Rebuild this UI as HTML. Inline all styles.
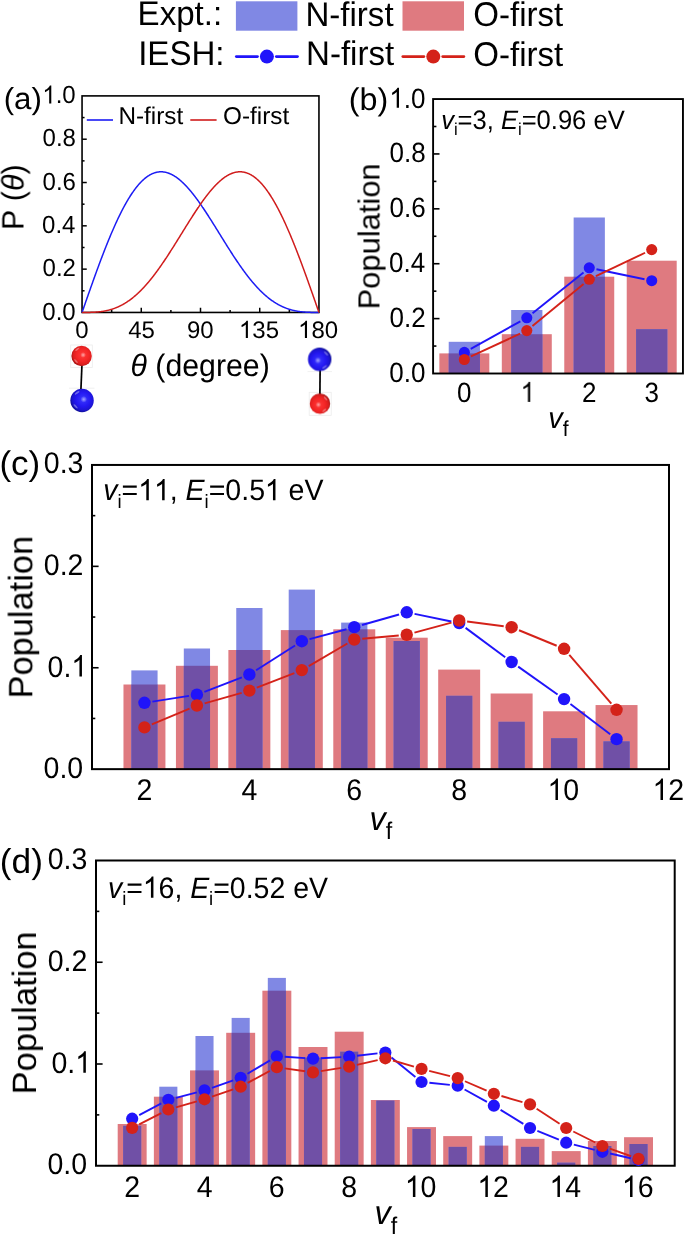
<!DOCTYPE html>
<html><head><meta charset="utf-8"><style>
html,body{margin:0;padding:0;background:#fff;overflow:hidden;}
text{white-space:pre;text-rendering:geometricPrecision;}
g{will-change:transform;}
svg{display:block;font-family:"Liberation Sans",sans-serif;font-kerning:none;}
</style></head><body>
<svg width="685" height="1235" viewBox="0 0 685 1235">
<rect width="685" height="1235" fill="#fff"/>
<g transform="translate(137.60,24.60) scale(1.0000,1.0350)"><text x="0.00" y="0.00" font-size="33.1">Expt.:</text></g>
<rect x="235.90" y="1.30" width="61.50" height="29.40" fill="#8088e4"/>
<g transform="translate(305.40,25.60) scale(1.0000,1.0350)"><text x="0.00" y="0.00" font-size="33.1">N-first</text></g>
<rect x="402.50" y="1.30" width="61.50" height="29.40" fill="#df7a80"/>
<g transform="translate(473.25,25.50) scale(1.0000,1.0350)"><text x="0.00" y="0.00" font-size="33.1">O-first</text></g>
<g transform="translate(138.15,65.00) scale(1.0000,1.0350)"><text x="0.00" y="0.00" font-size="33.1">IESH:</text></g>
<line x1="236.30" y1="56.60" x2="257.50" y2="56.60" stroke="#2014fa" stroke-width="2.7" stroke-linecap="round"/>
<line x1="276.30" y1="56.60" x2="297.50" y2="56.60" stroke="#2014fa" stroke-width="2.7" stroke-linecap="round"/>
<circle cx="266.90" cy="56.60" r="7.00" fill="#2014fa"/>
<line x1="402.80" y1="56.60" x2="423.90" y2="56.60" stroke="#d42219" stroke-width="2.7" stroke-linecap="round"/>
<line x1="442.70" y1="56.60" x2="463.90" y2="56.60" stroke="#d42219" stroke-width="2.7" stroke-linecap="round"/>
<circle cx="433.30" cy="56.60" r="7.00" fill="#d42219"/>
<g transform="translate(306.00,65.30) scale(1.0000,1.0350)"><text x="0.00" y="0.00" font-size="33.1">N-first</text></g>
<g transform="translate(473.25,65.60) scale(1.0000,1.0350)"><text x="0.00" y="0.00" font-size="33.1">O-first</text></g>
<rect x="82.05" y="95.9" width="236.90" height="216.55" fill="none" stroke="#000" stroke-width="1.6"/>
<line x1="82.05" y1="290.79" x2="84.55" y2="290.79" stroke="#000" stroke-width="1.5"/>
<line x1="82.05" y1="269.14" x2="86.75" y2="269.14" stroke="#000" stroke-width="1.5"/>
<line x1="82.05" y1="247.49" x2="84.55" y2="247.49" stroke="#000" stroke-width="1.5"/>
<line x1="82.05" y1="225.83" x2="86.75" y2="225.83" stroke="#000" stroke-width="1.5"/>
<line x1="82.05" y1="204.18" x2="84.55" y2="204.18" stroke="#000" stroke-width="1.5"/>
<line x1="82.05" y1="182.52" x2="86.75" y2="182.52" stroke="#000" stroke-width="1.5"/>
<line x1="82.05" y1="160.87" x2="84.55" y2="160.87" stroke="#000" stroke-width="1.5"/>
<line x1="82.05" y1="139.21" x2="86.75" y2="139.21" stroke="#000" stroke-width="1.5"/>
<line x1="82.05" y1="117.56" x2="84.55" y2="117.56" stroke="#000" stroke-width="1.5"/>
<line x1="111.66" y1="312.45" x2="111.66" y2="309.95" stroke="#000" stroke-width="1.5"/>
<line x1="141.27" y1="312.45" x2="141.27" y2="307.75" stroke="#000" stroke-width="1.5"/>
<line x1="170.89" y1="312.45" x2="170.89" y2="309.95" stroke="#000" stroke-width="1.5"/>
<line x1="200.50" y1="312.45" x2="200.50" y2="307.75" stroke="#000" stroke-width="1.5"/>
<line x1="230.11" y1="312.45" x2="230.11" y2="309.95" stroke="#000" stroke-width="1.5"/>
<line x1="259.72" y1="312.45" x2="259.72" y2="307.75" stroke="#000" stroke-width="1.5"/>
<line x1="289.34" y1="312.45" x2="289.34" y2="309.95" stroke="#000" stroke-width="1.5"/>
<polyline points="82.05,312.45 82.38,311.51 82.71,310.56 83.04,309.62 83.37,308.67 83.70,307.73 84.02,306.78 84.35,305.84 84.68,304.89 85.01,303.95 85.34,303.01 85.67,302.07 86.00,301.12 86.33,300.18 86.66,299.24 86.99,298.30 87.31,297.36 87.64,296.42 87.97,295.49 88.30,294.55 88.63,293.61 88.96,292.68 89.29,291.74 89.62,290.81 89.95,289.88 90.28,288.94 90.60,288.01 90.93,287.09 91.26,286.16 91.59,285.23 91.92,284.31 92.25,283.38 92.58,282.46 92.91,281.54 93.24,280.62 93.57,279.70 93.89,278.78 94.22,277.87 94.55,276.95 94.88,276.04 95.21,275.13 95.54,274.22 95.87,273.32 96.20,272.41 96.53,271.51 96.86,270.61 97.19,269.71 97.51,268.81 97.84,267.92 98.17,267.03 98.50,266.14 98.83,265.25 99.16,264.36 99.49,263.48 99.82,262.60 100.15,261.72 100.48,260.84 100.80,259.97 101.13,259.09 101.46,258.22 101.79,257.36 102.12,256.49 102.45,255.63 102.78,254.77 103.11,253.92 103.44,253.06 103.77,252.21 104.09,251.37 104.42,250.52 104.75,249.68 105.08,248.84 105.41,248.00 105.74,247.17 106.07,246.34 106.40,245.51 106.73,244.69 107.06,243.87 107.39,243.05 107.71,242.24 108.04,241.43 108.37,240.62 108.70,239.81 109.03,239.01 109.36,238.22 109.69,237.42 110.02,236.63 110.35,235.85 110.68,235.06 111.00,234.28 111.33,233.51 111.66,232.73 111.99,231.97 112.32,231.20 112.65,230.44 112.98,229.68 113.31,228.93 113.64,228.18 113.97,227.43 114.29,226.69 114.62,225.95 114.95,225.22 115.28,224.49 115.61,223.76 115.94,223.04 116.27,222.32 116.60,221.61 116.93,220.90 117.26,220.20 117.58,219.50 117.91,218.80 118.24,218.11 118.57,217.42 118.90,216.74 119.23,216.06 119.56,215.38 119.89,214.71 120.22,214.05 120.55,213.38 120.88,212.73 121.20,212.08 121.53,211.43 121.86,210.78 122.19,210.15 122.52,209.51 122.85,208.88 123.18,208.26 123.51,207.64 123.84,207.02 124.17,206.41 124.49,205.81 124.82,205.21 125.15,204.61 125.48,204.02 125.81,203.44 126.14,202.86 126.47,202.28 126.80,201.71 127.13,201.14 127.46,200.58 127.78,200.02 128.11,199.47 128.44,198.93 128.77,198.39 129.10,197.85 129.43,197.32 129.76,196.79 130.09,196.27 130.42,195.76 130.75,195.25 131.08,194.74 131.40,194.24 131.73,193.75 132.06,193.26 132.39,192.78 132.72,192.30 133.05,191.82 133.38,191.36 133.71,190.89 134.04,190.44 134.37,189.98 134.69,189.54 135.02,189.10 135.35,188.66 135.68,188.23 136.01,187.80 136.34,187.38 136.67,186.97 137.00,186.56 137.33,186.16 137.66,185.76 137.98,185.37 138.31,184.98 138.64,184.60 138.97,184.23 139.30,183.86 139.63,183.49 139.96,183.13 140.29,182.78 140.62,182.43 140.95,182.09 141.27,181.75 141.60,181.42 141.93,181.09 142.26,180.77 142.59,180.46 142.92,180.15 143.25,179.85 143.58,179.55 143.91,179.26 144.24,178.97 144.57,178.69 144.89,178.41 145.22,178.15 145.55,177.88 145.88,177.62 146.21,177.37 146.54,177.12 146.87,176.88 147.20,176.65 147.53,176.42 147.86,176.19 148.18,175.97 148.51,175.76 148.84,175.55 149.17,175.35 149.50,175.15 149.83,174.96 150.16,174.78 150.49,174.60 150.82,174.42 151.15,174.26 151.47,174.09 151.80,173.94 152.13,173.79 152.46,173.64 152.79,173.50 153.12,173.37 153.45,173.24 153.78,173.11 154.11,173.00 154.44,172.88 154.77,172.78 155.09,172.68 155.42,172.58 155.75,172.49 156.08,172.41 156.41,172.33 156.74,172.25 157.07,172.19 157.40,172.12 157.73,172.07 158.06,172.02 158.38,171.97 158.71,171.93 159.04,171.89 159.37,171.86 159.70,171.84 160.03,171.82 160.36,171.81 160.69,171.80 161.02,171.80 161.35,171.80 161.67,171.81 162.00,171.82 162.33,171.84 162.66,171.86 162.99,171.89 163.32,171.93 163.65,171.97 163.98,172.01 164.31,172.06 164.64,172.12 164.96,172.18 165.29,172.24 165.62,172.31 165.95,172.39 166.28,172.47 166.61,172.56 166.94,172.65 167.27,172.75 167.60,172.85 167.93,172.95 168.26,173.07 168.58,173.18 168.91,173.30 169.24,173.43 169.57,173.56 169.90,173.70 170.23,173.84 170.56,173.99 170.89,174.14 171.22,174.29 171.55,174.45 171.87,174.62 172.20,174.79 172.53,174.96 172.86,175.14 173.19,175.33 173.52,175.51 173.85,175.71 174.18,175.91 174.51,176.11 174.84,176.32 175.16,176.53 175.49,176.74 175.82,176.96 176.15,177.19 176.48,177.42 176.81,177.65 177.14,177.89 177.47,178.13 177.80,178.38 178.13,178.63 178.46,178.89 178.78,179.15 179.11,179.41 179.44,179.68 179.77,179.95 180.10,180.23 180.43,180.51 180.76,180.80 181.09,181.08 181.42,181.38 181.75,181.67 182.07,181.98 182.40,182.28 182.73,182.59 183.06,182.90 183.39,183.22 183.72,183.54 184.05,183.86 184.38,184.19 184.71,184.52 185.04,184.86 185.36,185.20 185.69,185.54 186.02,185.88 186.35,186.23 186.68,186.59 187.01,186.94 187.34,187.30 187.67,187.67 188.00,188.03 188.33,188.40 188.65,188.78 188.98,189.16 189.31,189.54 189.64,189.92 189.97,190.31 190.30,190.70 190.63,191.09 190.96,191.49 191.29,191.89 191.62,192.29 191.95,192.69 192.27,193.10 192.60,193.51 192.93,193.93 193.26,194.34 193.59,194.76 193.92,195.19 194.25,195.61 194.58,196.04 194.91,196.47 195.24,196.90 195.56,197.34 195.89,197.78 196.22,198.22 196.55,198.66 196.88,199.11 197.21,199.56 197.54,200.01 197.87,200.46 198.20,200.92 198.53,201.38 198.85,201.84 199.18,202.30 199.51,202.77 199.84,203.23 200.17,203.70 200.50,204.18 200.83,204.65 201.16,205.12 201.49,205.60 201.82,206.08 202.15,206.56 202.47,207.05 202.80,207.53 203.13,208.02 203.46,208.51 203.79,209.00 204.12,209.49 204.45,209.98 204.78,210.48 205.11,210.97 205.44,211.47 205.76,211.97 206.09,212.47 206.42,212.98 206.75,213.48 207.08,213.99 207.41,214.49 207.74,215.00 208.07,215.51 208.40,216.02 208.73,216.54 209.05,217.05 209.38,217.56 209.71,218.08 210.04,218.60 210.37,219.11 210.70,219.63 211.03,220.15 211.36,220.67 211.69,221.19 212.02,221.71 212.34,222.24 212.67,222.76 213.00,223.29 213.33,223.81 213.66,224.34 213.99,224.86 214.32,225.39 214.65,225.92 214.98,226.44 215.31,226.97 215.64,227.50 215.96,228.03 216.29,228.56 216.62,229.09 216.95,229.62 217.28,230.15 217.61,230.68 217.94,231.21 218.27,231.74 218.60,232.28 218.93,232.81 219.25,233.34 219.58,233.87 219.91,234.40 220.24,234.93 220.57,235.46 220.90,236.00 221.23,236.53 221.56,237.06 221.89,237.59 222.22,238.12 222.54,238.65 222.87,239.18 223.20,239.71 223.53,240.24 223.86,240.77 224.19,241.30 224.52,241.82 224.85,242.35 225.18,242.88 225.51,243.40 225.84,243.93 226.16,244.46 226.49,244.98 226.82,245.50 227.15,246.03 227.48,246.55 227.81,247.07 228.14,247.59 228.47,248.11 228.80,248.63 229.13,249.15 229.45,249.67 229.78,250.18 230.11,250.70 230.44,251.21 230.77,251.73 231.10,252.24 231.43,252.75 231.76,253.26 232.09,253.77 232.42,254.28 232.74,254.78 233.07,255.29 233.40,255.79 233.73,256.29 234.06,256.80 234.39,257.30 234.72,257.79 235.05,258.29 235.38,258.79 235.71,259.28 236.03,259.77 236.36,260.27 236.69,260.76 237.02,261.24 237.35,261.73 237.68,262.22 238.01,262.70 238.34,263.18 238.67,263.66 239.00,264.14 239.33,264.62 239.65,265.09 239.98,265.57 240.31,266.04 240.64,266.51 240.97,266.97 241.30,267.44 241.63,267.90 241.96,268.37 242.29,268.83 242.62,269.29 242.94,269.74 243.27,270.20 243.60,270.65 243.93,271.10 244.26,271.55 244.59,271.99 244.92,272.44 245.25,272.88 245.58,273.32 245.91,273.76 246.23,274.20 246.56,274.63 246.89,275.06 247.22,275.49 247.55,275.92 247.88,276.34 248.21,276.76 248.54,277.18 248.87,277.60 249.20,278.02 249.53,278.43 249.85,278.84 250.18,279.25 250.51,279.66 250.84,280.06 251.17,280.46 251.50,280.86 251.83,281.26 252.16,281.65 252.49,282.05 252.82,282.43 253.14,282.82 253.47,283.21 253.80,283.59 254.13,283.97 254.46,284.34 254.79,284.72 255.12,285.09 255.45,285.46 255.78,285.83 256.11,286.19 256.43,286.55 256.76,286.91 257.09,287.27 257.42,287.62 257.75,287.97 258.08,288.32 258.41,288.67 258.74,289.01 259.07,289.35 259.40,289.69 259.72,290.03 260.05,290.36 260.38,290.69 260.71,291.02 261.04,291.34 261.37,291.66 261.70,291.98 262.03,292.30 262.36,292.61 262.69,292.92 263.02,293.23 263.34,293.54 263.67,293.84 264.00,294.14 264.33,294.44 264.66,294.73 264.99,295.03 265.32,295.32 265.65,295.60 265.98,295.89 266.31,296.17 266.63,296.45 266.96,296.72 267.29,296.99 267.62,297.26 267.95,297.53 268.28,297.80 268.61,298.06 268.94,298.32 269.27,298.58 269.60,298.83 269.92,299.08 270.25,299.33 270.58,299.57 270.91,299.82 271.24,300.06 271.57,300.30 271.90,300.53 272.23,300.76 272.56,300.99 272.89,301.22 273.22,301.44 273.54,301.66 273.87,301.88 274.20,302.10 274.53,302.31 274.86,302.52 275.19,302.73 275.52,302.94 275.85,303.14 276.18,303.34 276.51,303.54 276.83,303.73 277.16,303.92 277.49,304.11 277.82,304.30 278.15,304.48 278.48,304.67 278.81,304.85 279.14,305.02 279.47,305.20 279.80,305.37 280.12,305.54 280.45,305.70 280.78,305.87 281.11,306.03 281.44,306.19 281.77,306.35 282.10,306.50 282.43,306.65 282.76,306.80 283.09,306.95 283.41,307.09 283.74,307.23 284.07,307.37 284.40,307.51 284.73,307.65 285.06,307.78 285.39,307.91 285.72,308.04 286.05,308.16 286.38,308.29 286.71,308.41 287.03,308.53 287.36,308.64 287.69,308.76 288.02,308.87 288.35,308.98 288.68,309.09 289.01,309.19 289.34,309.30 289.67,309.40 290.00,309.50 290.32,309.59 290.65,309.69 290.98,309.78 291.31,309.87 291.64,309.96 291.97,310.05 292.30,310.13 292.63,310.22 292.96,310.30 293.29,310.38 293.61,310.45 293.94,310.53 294.27,310.60 294.60,310.67 294.93,310.74 295.26,310.81 295.59,310.88 295.92,310.94 296.25,311.01 296.58,311.07 296.91,311.13 297.23,311.18 297.56,311.24 297.89,311.29 298.22,311.35 298.55,311.40 298.88,311.45 299.21,311.50 299.54,311.54 299.87,311.59 300.20,311.63 300.52,311.67 300.85,311.71 301.18,311.75 301.51,311.79 301.84,311.83 302.17,311.86 302.50,311.89 302.83,311.93 303.16,311.96 303.49,311.99 303.81,312.02 304.14,312.04 304.47,312.07 304.80,312.10 305.13,312.12 305.46,312.14 305.79,312.16 306.12,312.19 306.45,312.20 306.78,312.22 307.10,312.24 307.43,312.26 307.76,312.27 308.09,312.29 308.42,312.30 308.75,312.32 309.08,312.33 309.41,312.34 309.74,312.35 310.07,312.36 310.40,312.37 310.72,312.38 311.05,312.39 311.38,312.40 311.71,312.40 312.04,312.41 312.37,312.41 312.70,312.42 313.03,312.42 313.36,312.43 313.69,312.43 314.01,312.43 314.34,312.44 314.67,312.44 315.00,312.44 315.33,312.44 315.66,312.45 315.99,312.45 316.32,312.45 316.65,312.45 316.98,312.45 317.30,312.45 317.63,312.45 317.96,312.45 318.29,312.45 318.62,312.45 318.95,312.45" fill="none" stroke="#1c1cf4" stroke-width="1.5"/>
<polyline points="82.05,312.45 82.38,312.45 82.71,312.45 83.04,312.45 83.37,312.45 83.70,312.45 84.02,312.45 84.35,312.45 84.68,312.45 85.01,312.45 85.34,312.45 85.67,312.44 86.00,312.44 86.33,312.44 86.66,312.44 86.99,312.43 87.31,312.43 87.64,312.43 87.97,312.42 88.30,312.42 88.63,312.41 88.96,312.41 89.29,312.40 89.62,312.40 89.95,312.39 90.28,312.38 90.60,312.37 90.93,312.36 91.26,312.35 91.59,312.34 91.92,312.33 92.25,312.32 92.58,312.30 92.91,312.29 93.24,312.27 93.57,312.26 93.89,312.24 94.22,312.22 94.55,312.20 94.88,312.19 95.21,312.16 95.54,312.14 95.87,312.12 96.20,312.10 96.53,312.07 96.86,312.04 97.19,312.02 97.51,311.99 97.84,311.96 98.17,311.93 98.50,311.89 98.83,311.86 99.16,311.83 99.49,311.79 99.82,311.75 100.15,311.71 100.48,311.67 100.80,311.63 101.13,311.59 101.46,311.54 101.79,311.50 102.12,311.45 102.45,311.40 102.78,311.35 103.11,311.29 103.44,311.24 103.77,311.18 104.09,311.13 104.42,311.07 104.75,311.01 105.08,310.94 105.41,310.88 105.74,310.81 106.07,310.74 106.40,310.67 106.73,310.60 107.06,310.53 107.39,310.45 107.71,310.38 108.04,310.30 108.37,310.22 108.70,310.13 109.03,310.05 109.36,309.96 109.69,309.87 110.02,309.78 110.35,309.69 110.68,309.59 111.00,309.50 111.33,309.40 111.66,309.30 111.99,309.19 112.32,309.09 112.65,308.98 112.98,308.87 113.31,308.76 113.64,308.64 113.97,308.53 114.29,308.41 114.62,308.29 114.95,308.16 115.28,308.04 115.61,307.91 115.94,307.78 116.27,307.65 116.60,307.51 116.93,307.37 117.26,307.23 117.58,307.09 117.91,306.95 118.24,306.80 118.57,306.65 118.90,306.50 119.23,306.35 119.56,306.19 119.89,306.03 120.22,305.87 120.55,305.70 120.88,305.54 121.20,305.37 121.53,305.20 121.86,305.02 122.19,304.85 122.52,304.67 122.85,304.48 123.18,304.30 123.51,304.11 123.84,303.92 124.17,303.73 124.49,303.54 124.82,303.34 125.15,303.14 125.48,302.94 125.81,302.73 126.14,302.52 126.47,302.31 126.80,302.10 127.13,301.88 127.46,301.66 127.78,301.44 128.11,301.22 128.44,300.99 128.77,300.76 129.10,300.53 129.43,300.30 129.76,300.06 130.09,299.82 130.42,299.57 130.75,299.33 131.08,299.08 131.40,298.83 131.73,298.58 132.06,298.32 132.39,298.06 132.72,297.80 133.05,297.53 133.38,297.26 133.71,296.99 134.04,296.72 134.37,296.45 134.69,296.17 135.02,295.89 135.35,295.60 135.68,295.32 136.01,295.03 136.34,294.73 136.67,294.44 137.00,294.14 137.33,293.84 137.66,293.54 137.98,293.23 138.31,292.92 138.64,292.61 138.97,292.30 139.30,291.98 139.63,291.66 139.96,291.34 140.29,291.02 140.62,290.69 140.95,290.36 141.27,290.03 141.60,289.69 141.93,289.35 142.26,289.01 142.59,288.67 142.92,288.32 143.25,287.97 143.58,287.62 143.91,287.27 144.24,286.91 144.57,286.55 144.89,286.19 145.22,285.83 145.55,285.46 145.88,285.09 146.21,284.72 146.54,284.34 146.87,283.97 147.20,283.59 147.53,283.21 147.86,282.82 148.18,282.43 148.51,282.05 148.84,281.65 149.17,281.26 149.50,280.86 149.83,280.46 150.16,280.06 150.49,279.66 150.82,279.25 151.15,278.84 151.47,278.43 151.80,278.02 152.13,277.60 152.46,277.18 152.79,276.76 153.12,276.34 153.45,275.92 153.78,275.49 154.11,275.06 154.44,274.63 154.77,274.20 155.09,273.76 155.42,273.32 155.75,272.88 156.08,272.44 156.41,271.99 156.74,271.55 157.07,271.10 157.40,270.65 157.73,270.20 158.06,269.74 158.38,269.29 158.71,268.83 159.04,268.37 159.37,267.90 159.70,267.44 160.03,266.97 160.36,266.51 160.69,266.04 161.02,265.57 161.35,265.09 161.67,264.62 162.00,264.14 162.33,263.66 162.66,263.18 162.99,262.70 163.32,262.22 163.65,261.73 163.98,261.24 164.31,260.76 164.64,260.27 164.96,259.77 165.29,259.28 165.62,258.79 165.95,258.29 166.28,257.79 166.61,257.30 166.94,256.80 167.27,256.29 167.60,255.79 167.93,255.29 168.26,254.78 168.58,254.28 168.91,253.77 169.24,253.26 169.57,252.75 169.90,252.24 170.23,251.73 170.56,251.21 170.89,250.70 171.22,250.18 171.55,249.67 171.87,249.15 172.20,248.63 172.53,248.11 172.86,247.59 173.19,247.07 173.52,246.55 173.85,246.03 174.18,245.50 174.51,244.98 174.84,244.46 175.16,243.93 175.49,243.40 175.82,242.88 176.15,242.35 176.48,241.82 176.81,241.30 177.14,240.77 177.47,240.24 177.80,239.71 178.13,239.18 178.46,238.65 178.78,238.12 179.11,237.59 179.44,237.06 179.77,236.53 180.10,236.00 180.43,235.46 180.76,234.93 181.09,234.40 181.42,233.87 181.75,233.34 182.07,232.81 182.40,232.28 182.73,231.74 183.06,231.21 183.39,230.68 183.72,230.15 184.05,229.62 184.38,229.09 184.71,228.56 185.04,228.03 185.36,227.50 185.69,226.97 186.02,226.44 186.35,225.92 186.68,225.39 187.01,224.86 187.34,224.34 187.67,223.81 188.00,223.29 188.33,222.76 188.65,222.24 188.98,221.71 189.31,221.19 189.64,220.67 189.97,220.15 190.30,219.63 190.63,219.11 190.96,218.60 191.29,218.08 191.62,217.56 191.95,217.05 192.27,216.54 192.60,216.02 192.93,215.51 193.26,215.00 193.59,214.49 193.92,213.99 194.25,213.48 194.58,212.98 194.91,212.47 195.24,211.97 195.56,211.47 195.89,210.97 196.22,210.48 196.55,209.98 196.88,209.49 197.21,209.00 197.54,208.51 197.87,208.02 198.20,207.53 198.53,207.05 198.85,206.56 199.18,206.08 199.51,205.60 199.84,205.12 200.17,204.65 200.50,204.18 200.83,203.70 201.16,203.23 201.49,202.77 201.82,202.30 202.15,201.84 202.47,201.38 202.80,200.92 203.13,200.46 203.46,200.01 203.79,199.56 204.12,199.11 204.45,198.66 204.78,198.22 205.11,197.78 205.44,197.34 205.76,196.90 206.09,196.47 206.42,196.04 206.75,195.61 207.08,195.19 207.41,194.76 207.74,194.34 208.07,193.93 208.40,193.51 208.73,193.10 209.05,192.69 209.38,192.29 209.71,191.89 210.04,191.49 210.37,191.09 210.70,190.70 211.03,190.31 211.36,189.92 211.69,189.54 212.02,189.16 212.34,188.78 212.67,188.40 213.00,188.03 213.33,187.67 213.66,187.30 213.99,186.94 214.32,186.59 214.65,186.23 214.98,185.88 215.31,185.54 215.64,185.20 215.96,184.86 216.29,184.52 216.62,184.19 216.95,183.86 217.28,183.54 217.61,183.22 217.94,182.90 218.27,182.59 218.60,182.28 218.93,181.98 219.25,181.67 219.58,181.38 219.91,181.08 220.24,180.80 220.57,180.51 220.90,180.23 221.23,179.95 221.56,179.68 221.89,179.41 222.22,179.15 222.54,178.89 222.87,178.63 223.20,178.38 223.53,178.13 223.86,177.89 224.19,177.65 224.52,177.42 224.85,177.19 225.18,176.96 225.51,176.74 225.84,176.53 226.16,176.32 226.49,176.11 226.82,175.91 227.15,175.71 227.48,175.51 227.81,175.33 228.14,175.14 228.47,174.96 228.80,174.79 229.13,174.62 229.45,174.45 229.78,174.29 230.11,174.14 230.44,173.99 230.77,173.84 231.10,173.70 231.43,173.56 231.76,173.43 232.09,173.30 232.42,173.18 232.74,173.07 233.07,172.95 233.40,172.85 233.73,172.75 234.06,172.65 234.39,172.56 234.72,172.47 235.05,172.39 235.38,172.31 235.71,172.24 236.03,172.18 236.36,172.12 236.69,172.06 237.02,172.01 237.35,171.97 237.68,171.93 238.01,171.89 238.34,171.86 238.67,171.84 239.00,171.82 239.33,171.81 239.65,171.80 239.98,171.80 240.31,171.80 240.64,171.81 240.97,171.82 241.30,171.84 241.63,171.86 241.96,171.89 242.29,171.93 242.62,171.97 242.94,172.02 243.27,172.07 243.60,172.12 243.93,172.19 244.26,172.25 244.59,172.33 244.92,172.41 245.25,172.49 245.58,172.58 245.91,172.68 246.23,172.78 246.56,172.88 246.89,173.00 247.22,173.11 247.55,173.24 247.88,173.37 248.21,173.50 248.54,173.64 248.87,173.79 249.20,173.94 249.53,174.09 249.85,174.26 250.18,174.42 250.51,174.60 250.84,174.78 251.17,174.96 251.50,175.15 251.83,175.35 252.16,175.55 252.49,175.76 252.82,175.97 253.14,176.19 253.47,176.42 253.80,176.65 254.13,176.88 254.46,177.12 254.79,177.37 255.12,177.62 255.45,177.88 255.78,178.15 256.11,178.41 256.43,178.69 256.76,178.97 257.09,179.26 257.42,179.55 257.75,179.85 258.08,180.15 258.41,180.46 258.74,180.77 259.07,181.09 259.40,181.42 259.72,181.75 260.05,182.09 260.38,182.43 260.71,182.78 261.04,183.13 261.37,183.49 261.70,183.86 262.03,184.23 262.36,184.60 262.69,184.98 263.02,185.37 263.34,185.76 263.67,186.16 264.00,186.56 264.33,186.97 264.66,187.38 264.99,187.80 265.32,188.23 265.65,188.66 265.98,189.10 266.31,189.54 266.63,189.98 266.96,190.44 267.29,190.89 267.62,191.36 267.95,191.82 268.28,192.30 268.61,192.78 268.94,193.26 269.27,193.75 269.60,194.24 269.92,194.74 270.25,195.25 270.58,195.76 270.91,196.27 271.24,196.79 271.57,197.32 271.90,197.85 272.23,198.39 272.56,198.93 272.89,199.47 273.22,200.02 273.54,200.58 273.87,201.14 274.20,201.71 274.53,202.28 274.86,202.86 275.19,203.44 275.52,204.02 275.85,204.61 276.18,205.21 276.51,205.81 276.83,206.41 277.16,207.02 277.49,207.64 277.82,208.26 278.15,208.88 278.48,209.51 278.81,210.15 279.14,210.78 279.47,211.43 279.80,212.08 280.12,212.73 280.45,213.38 280.78,214.05 281.11,214.71 281.44,215.38 281.77,216.06 282.10,216.74 282.43,217.42 282.76,218.11 283.09,218.80 283.41,219.50 283.74,220.20 284.07,220.90 284.40,221.61 284.73,222.32 285.06,223.04 285.39,223.76 285.72,224.49 286.05,225.22 286.38,225.95 286.71,226.69 287.03,227.43 287.36,228.18 287.69,228.93 288.02,229.68 288.35,230.44 288.68,231.20 289.01,231.97 289.34,232.73 289.67,233.51 290.00,234.28 290.32,235.06 290.65,235.85 290.98,236.63 291.31,237.42 291.64,238.22 291.97,239.01 292.30,239.81 292.63,240.62 292.96,241.43 293.29,242.24 293.61,243.05 293.94,243.87 294.27,244.69 294.60,245.51 294.93,246.34 295.26,247.17 295.59,248.00 295.92,248.84 296.25,249.68 296.58,250.52 296.91,251.37 297.23,252.21 297.56,253.06 297.89,253.92 298.22,254.77 298.55,255.63 298.88,256.49 299.21,257.36 299.54,258.22 299.87,259.09 300.20,259.97 300.52,260.84 300.85,261.72 301.18,262.60 301.51,263.48 301.84,264.36 302.17,265.25 302.50,266.14 302.83,267.03 303.16,267.92 303.49,268.81 303.81,269.71 304.14,270.61 304.47,271.51 304.80,272.41 305.13,273.32 305.46,274.22 305.79,275.13 306.12,276.04 306.45,276.95 306.78,277.87 307.10,278.78 307.43,279.70 307.76,280.62 308.09,281.54 308.42,282.46 308.75,283.38 309.08,284.31 309.41,285.23 309.74,286.16 310.07,287.09 310.40,288.01 310.72,288.94 311.05,289.88 311.38,290.81 311.71,291.74 312.04,292.68 312.37,293.61 312.70,294.55 313.03,295.49 313.36,296.42 313.69,297.36 314.01,298.30 314.34,299.24 314.67,300.18 315.00,301.12 315.33,302.07 315.66,303.01 315.99,303.95 316.32,304.89 316.65,305.84 316.98,306.78 317.30,307.73 317.63,308.67 317.96,309.62 318.29,310.56 318.62,311.51 318.95,312.45" fill="none" stroke="#d01c1c" stroke-width="1.5"/>
<g transform="translate(42.35,319.71) scale(1.0000,1.0350)"><text x="0.00" y="0.00" font-size="24.0">0.0</text></g>
<g transform="translate(42.60,276.40) scale(1.0000,1.0350)"><text x="0.00" y="0.00" font-size="24.0">0.2</text></g>
<g transform="translate(42.10,233.09) scale(1.0000,1.0350)"><text x="0.00" y="0.00" font-size="24.0">0.4</text></g>
<g transform="translate(42.60,189.78) scale(1.0000,1.0350)"><text x="0.00" y="0.00" font-size="24.0">0.6</text></g>
<g transform="translate(42.60,146.47) scale(1.0000,1.0350)"><text x="0.00" y="0.00" font-size="24.0">0.8</text></g>
<g transform="translate(42.35,103.42) scale(1.0000,1.0350)"><path transform="translate(0.00,0.00) scale(0.01172,-0.01172)" d="M763 0 L583 0 L583 1147 Q518 1085 412 1023 Q306 961 222 930 L222 1104 Q373 1175 486 1276 Q599 1377 646 1472 L763 1472 Z"/><text x="13.35" y="0.00" font-size="24.0">.0</text></g>
<g transform="translate(75.30,337.95) scale(1.0000,0.9950)"><text x="0.00" y="0.00" font-size="24.0">0</text></g>
<g transform="translate(128.27,337.95) scale(1.0000,0.9950)"><text x="0.00" y="0.00" font-size="24.0">45</text></g>
<g transform="translate(187.00,337.95) scale(1.0000,0.9950)"><text x="0.00" y="0.00" font-size="24.0">90</text></g>
<g transform="translate(238.97,337.95) scale(1.0000,0.9950)"><path transform="translate(0.00,0.00) scale(0.01172,-0.01172)" d="M763 0 L583 0 L583 1147 Q518 1085 412 1023 Q306 961 222 930 L222 1104 Q373 1175 486 1276 Q599 1377 646 1472 L763 1472 Z"/><text x="13.35" y="0.00" font-size="24.0">35</text></g>
<g transform="translate(298.07,337.95) scale(1.0000,0.9950)"><path transform="translate(0.00,0.00) scale(0.01172,-0.01172)" d="M763 0 L583 0 L583 1147 Q518 1085 412 1023 Q306 961 222 930 L222 1104 Q373 1175 486 1276 Q599 1377 646 1472 L763 1472 Z"/><text x="13.35" y="0.00" font-size="24.0">80</text></g>
<g transform="translate(3.65,108.80) scale(1.0000,0.9750)"><text x="0.00" y="0.00" font-size="31.3">(a)</text></g>
<line x1="86.80" y1="120.00" x2="113.00" y2="120.00" stroke="#1c1cf4" stroke-width="1.6"/>
<g transform="translate(118.45,124.20) scale(1.0000,1.0000)"><text x="0.00" y="0.00" font-size="24.3">N-first</text></g>
<line x1="190.30" y1="120.00" x2="216.60" y2="120.00" stroke="#d01c1c" stroke-width="1.6"/>
<g transform="translate(223.10,124.20) scale(1.0000,1.0000)"><text x="0.00" y="0.00" font-size="24.3">O-first</text></g>
<g transform="translate(23.40,229.99) rotate(-90) scale(1.0174,1.0350)"><text x="0.00" y="0.00" font-size="29.9">P (</text><text x="38.34" y="0.00" font-size="29.9" font-style="italic">θ</text><text x="54.61" y="0.00" font-size="29.9">)</text></g>
<g transform="translate(130.54,375.70) scale(1.0085,1.0350)"><text x="0.00" y="0.00" font-size="30" font-style="italic">θ</text><text x="16.27" y="0.00" font-size="30"> (degree)</text></g>
<rect x="70.7" y="345" width="21.6" height="22.5" fill="none" stroke="#ececec" stroke-width="0.8"/>
<line x1="69" y1="388.2" x2="94.5" y2="388.2" stroke="#ececec" stroke-width="0.8"/>
<line x1="307.5" y1="371.6" x2="332" y2="371.6" stroke="#ececec" stroke-width="0.8"/>
<rect x="309.2" y="392.3" width="22" height="23" fill="none" stroke="#ececec" stroke-width="0.8"/>
<line x1="81.90" y1="366.00" x2="80.90" y2="390.00" stroke="#000" stroke-width="1.7"/>
<defs><radialGradient id="bg1" cx="0.55" cy="0.45" r="0.55"><stop offset="0" stop-color="#ff3a3a"/><stop offset="0.55" stop-color="#f42626"/><stop offset="0.85" stop-color="#dc1e1e"/><stop offset="1" stop-color="#a81414"/></radialGradient><radialGradient id="bh1"><stop offset="0" stop-color="#fff" stop-opacity="0.55"/><stop offset="1" stop-color="#fff" stop-opacity="0"/></radialGradient></defs>
<g>
<circle cx="81.60" cy="356.00" r="10.20" fill="url(#bg1)"/>
<circle cx="83.13" cy="354.98" r="2.86" fill="url(#bh1)"/>
<ellipse cx="77.32" cy="349.27" rx="2.45" ry="0.82" transform="rotate(-35 77.32 349.27)" fill="#fff" opacity="0.35"/>
<ellipse cx="75.99" cy="361.10" rx="2.45" ry="0.82" transform="rotate(45 75.99 361.10)" fill="#fff" opacity="0.35"/>
</g>
<defs><radialGradient id="bg2" cx="0.55" cy="0.45" r="0.55"><stop offset="0" stop-color="#3a3aff"/><stop offset="0.55" stop-color="#2418f2"/><stop offset="0.85" stop-color="#1c14d0"/><stop offset="1" stop-color="#10109a"/></radialGradient><radialGradient id="bh2"><stop offset="0" stop-color="#fff" stop-opacity="0.55"/><stop offset="1" stop-color="#fff" stop-opacity="0"/></radialGradient></defs>
<g>
<circle cx="82.05" cy="400.50" r="11.70" fill="url(#bg2)"/>
<circle cx="83.80" cy="399.33" r="3.28" fill="url(#bh2)"/>
<ellipse cx="77.14" cy="392.78" rx="2.81" ry="0.94" transform="rotate(-35 77.14 392.78)" fill="#fff" opacity="0.35"/>
<ellipse cx="75.61" cy="406.35" rx="2.81" ry="0.94" transform="rotate(45 75.61 406.35)" fill="#fff" opacity="0.35"/>
</g>
<line x1="320.10" y1="370.00" x2="319.90" y2="394.50" stroke="#000" stroke-width="1.7"/>
<defs><radialGradient id="bg3" cx="0.55" cy="0.45" r="0.55"><stop offset="0" stop-color="#3a3aff"/><stop offset="0.55" stop-color="#2418f2"/><stop offset="0.85" stop-color="#1c14d0"/><stop offset="1" stop-color="#10109a"/></radialGradient><radialGradient id="bh3"><stop offset="0" stop-color="#fff" stop-opacity="0.55"/><stop offset="1" stop-color="#fff" stop-opacity="0"/></radialGradient></defs>
<g transform="rotate(180 319.70 359.30)">
<circle cx="319.70" cy="359.30" r="11.70" fill="url(#bg3)"/>
<circle cx="321.45" cy="358.13" r="3.28" fill="url(#bh3)"/>
<ellipse cx="314.79" cy="351.58" rx="2.81" ry="0.94" transform="rotate(-35 314.79 351.58)" fill="#fff" opacity="0.35"/>
<ellipse cx="313.26" cy="365.15" rx="2.81" ry="0.94" transform="rotate(45 313.26 365.15)" fill="#fff" opacity="0.35"/>
</g>
<defs><radialGradient id="bg4" cx="0.55" cy="0.45" r="0.55"><stop offset="0" stop-color="#ff3a3a"/><stop offset="0.55" stop-color="#f42626"/><stop offset="0.85" stop-color="#dc1e1e"/><stop offset="1" stop-color="#a81414"/></radialGradient><radialGradient id="bh4"><stop offset="0" stop-color="#fff" stop-opacity="0.55"/><stop offset="1" stop-color="#fff" stop-opacity="0"/></radialGradient></defs>
<g transform="rotate(180 320.00 403.70)">
<circle cx="320.00" cy="403.70" r="10.20" fill="url(#bg4)"/>
<circle cx="321.53" cy="402.68" r="2.86" fill="url(#bh4)"/>
<ellipse cx="315.72" cy="396.97" rx="2.45" ry="0.82" transform="rotate(-35 315.72 396.97)" fill="#fff" opacity="0.35"/>
<ellipse cx="314.39" cy="408.80" rx="2.45" ry="0.82" transform="rotate(45 314.39 408.80)" fill="#fff" opacity="0.35"/>
</g>
<rect x="439.35" y="353.40" width="49.97" height="20.10" fill="#df7a80"/>
<rect x="448.72" y="341.80" width="31.23" height="31.70" fill="#8088e4"/>
<rect x="448.72" y="353.40" width="31.23" height="20.10" fill="#7050a6"/>
<rect x="501.81" y="334.20" width="49.97" height="39.30" fill="#df7a80"/>
<rect x="511.18" y="310.00" width="31.23" height="63.50" fill="#8088e4"/>
<rect x="511.18" y="334.20" width="31.23" height="39.30" fill="#7050a6"/>
<rect x="564.27" y="276.70" width="49.97" height="96.80" fill="#df7a80"/>
<rect x="573.64" y="217.50" width="31.23" height="156.00" fill="#8088e4"/>
<rect x="573.64" y="276.70" width="31.23" height="96.80" fill="#7050a6"/>
<rect x="626.73" y="260.70" width="49.97" height="112.80" fill="#df7a80"/>
<rect x="636.10" y="329.20" width="31.23" height="44.30" fill="#8088e4"/>
<rect x="636.10" y="329.20" width="31.23" height="44.30" fill="#7050a6"/>
<line x1="433.10" y1="346.06" x2="436.40" y2="346.06" stroke="#000" stroke-width="1.6"/>
<line x1="433.10" y1="318.61" x2="439.50" y2="318.61" stroke="#000" stroke-width="1.6"/>
<line x1="433.10" y1="291.17" x2="436.40" y2="291.17" stroke="#000" stroke-width="1.6"/>
<line x1="433.10" y1="263.72" x2="439.50" y2="263.72" stroke="#000" stroke-width="1.6"/>
<line x1="433.10" y1="236.28" x2="436.40" y2="236.28" stroke="#000" stroke-width="1.6"/>
<line x1="433.10" y1="208.83" x2="439.50" y2="208.83" stroke="#000" stroke-width="1.6"/>
<line x1="433.10" y1="181.39" x2="436.40" y2="181.39" stroke="#000" stroke-width="1.6"/>
<line x1="433.10" y1="153.94" x2="439.50" y2="153.94" stroke="#000" stroke-width="1.6"/>
<line x1="433.10" y1="126.50" x2="436.40" y2="126.50" stroke="#000" stroke-width="1.6"/>
<rect x="433.1" y="99.05" width="249.85" height="274.45" fill="none" stroke="#000" stroke-width="1.9"/>
<line x1="470.76" y1="348.84" x2="520.36" y2="321.36" stroke="#2014fa" stroke-width="1.9"/>
<line x1="532.53" y1="313.21" x2="583.52" y2="272.39" stroke="#2014fa" stroke-width="1.9"/>
<line x1="596.45" y1="269.29" x2="644.52" y2="279.21" stroke="#2014fa" stroke-width="1.9"/>
<circle cx="464.33" cy="352.40" r="5.55" fill="#2014fa"/>
<circle cx="526.79" cy="317.80" r="5.55" fill="#2014fa"/>
<circle cx="589.26" cy="267.80" r="5.55" fill="#2014fa"/>
<circle cx="651.72" cy="280.70" r="5.55" fill="#2014fa"/>
<line x1="471.00" y1="356.41" x2="520.12" y2="333.69" stroke="#d42219" stroke-width="1.9"/>
<line x1="532.47" y1="325.94" x2="583.58" y2="283.96" stroke="#d42219" stroke-width="1.9"/>
<line x1="595.89" y1="276.14" x2="645.08" y2="252.76" stroke="#d42219" stroke-width="1.9"/>
<circle cx="464.33" cy="359.50" r="5.55" fill="#d42219"/>
<circle cx="526.79" cy="330.60" r="5.55" fill="#d42219"/>
<circle cx="589.26" cy="279.30" r="5.55" fill="#d42219"/>
<circle cx="651.72" cy="249.60" r="5.55" fill="#d42219"/>
<g transform="translate(389.30,381.83) scale(1.0000,1.0700)"><text x="0.00" y="0.00" font-size="26.0">0.0</text></g>
<g transform="translate(389.55,326.94) scale(1.0000,1.0700)"><text x="0.00" y="0.00" font-size="26.0">0.2</text></g>
<g transform="translate(389.05,272.05) scale(1.0000,1.0700)"><text x="0.00" y="0.00" font-size="26.0">0.4</text></g>
<g transform="translate(389.55,217.16) scale(1.0000,1.0700)"><text x="0.00" y="0.00" font-size="26.0">0.6</text></g>
<g transform="translate(389.55,162.27) scale(1.0000,1.0700)"><text x="0.00" y="0.00" font-size="26.0">0.8</text></g>
<g transform="translate(389.30,107.65) scale(1.0000,1.0700)"><path transform="translate(0.00,0.00) scale(0.01270,-0.01270)" d="M763 0 L583 0 L583 1147 Q518 1085 412 1023 Q306 961 222 930 L222 1104 Q373 1175 486 1276 Q599 1377 646 1472 L763 1472 Z"/><text x="14.46" y="0.00" font-size="26.0">.0</text></g>
<g transform="translate(457.08,401.63) scale(1.0000,1.0700)"><text x="0.00" y="0.00" font-size="26.0">0</text></g>
<g transform="translate(520.54,401.90) scale(1.0000,1.0700)"><path transform="translate(0.00,0.00) scale(0.01270,-0.01270)" d="M763 0 L583 0 L583 1147 Q518 1085 412 1023 Q306 961 222 930 L222 1104 Q373 1175 486 1276 Q599 1377 646 1472 L763 1472 Z"/></g>
<g transform="translate(582.01,401.76) scale(1.0000,1.0700)"><text x="0.00" y="0.00" font-size="26.0">2</text></g>
<g transform="translate(644.59,401.63) scale(1.0000,1.0700)"><text x="0.00" y="0.00" font-size="26.0">3</text></g>
<g transform="translate(348.85,110.10) scale(1.0000,0.9750)"><text x="0.00" y="0.00" font-size="32.3">(b)</text></g>
<g transform="translate(379.05,309.40) rotate(-90) scale(1.0000,0.9850)"><text x="0.00" y="0.00" font-size="30.9">Population</text></g>
<g transform="translate(548.25,427.80) scale(1.0000,1.0350)"><text x="0.00" y="0.00" font-size="29" font-style="italic">v</text><text x="14.50" y="8.20" font-size="21">f</text></g>
<g transform="translate(441.16,128.60) scale(0.9915,1.0350)"><text x="0.00" y="0.00" font-size="25.8" font-style="italic">v</text><text x="12.88" y="6.45" font-size="16.77">i</text><text x="16.60" y="0.00" font-size="25.8">=3, </text><text x="60.26" y="0.00" font-size="25.8" font-style="italic">E</text><text x="77.44" y="6.45" font-size="16.77">i</text><text x="81.16" y="0.00" font-size="25.8">=0.96 eV</text></g>
<rect x="123.47" y="684.50" width="41.96" height="84.65" fill="#df7a80"/>
<rect x="131.34" y="670.40" width="26.23" height="98.75" fill="#8088e4"/>
<rect x="131.34" y="684.50" width="26.23" height="84.65" fill="#7050a6"/>
<rect x="175.93" y="665.80" width="41.96" height="103.35" fill="#df7a80"/>
<rect x="183.80" y="648.50" width="26.23" height="120.65" fill="#8088e4"/>
<rect x="183.80" y="665.80" width="26.23" height="103.35" fill="#7050a6"/>
<rect x="228.38" y="650.00" width="41.96" height="119.15" fill="#df7a80"/>
<rect x="236.25" y="608.00" width="26.23" height="161.15" fill="#8088e4"/>
<rect x="236.25" y="650.00" width="26.23" height="119.15" fill="#7050a6"/>
<rect x="280.84" y="630.10" width="41.96" height="139.05" fill="#df7a80"/>
<rect x="288.70" y="589.60" width="26.23" height="179.55" fill="#8088e4"/>
<rect x="288.70" y="630.10" width="26.23" height="139.05" fill="#7050a6"/>
<rect x="333.29" y="629.30" width="41.96" height="139.85" fill="#df7a80"/>
<rect x="341.16" y="622.60" width="26.23" height="146.55" fill="#8088e4"/>
<rect x="341.16" y="629.30" width="26.23" height="139.85" fill="#7050a6"/>
<rect x="385.75" y="637.70" width="41.96" height="131.45" fill="#df7a80"/>
<rect x="393.61" y="641.00" width="26.23" height="128.15" fill="#8088e4"/>
<rect x="393.61" y="641.00" width="26.23" height="128.15" fill="#7050a6"/>
<rect x="438.20" y="669.60" width="41.96" height="99.55" fill="#df7a80"/>
<rect x="446.07" y="695.80" width="26.23" height="73.35" fill="#8088e4"/>
<rect x="446.07" y="695.80" width="26.23" height="73.35" fill="#7050a6"/>
<rect x="490.65" y="693.50" width="41.96" height="75.65" fill="#df7a80"/>
<rect x="498.52" y="721.80" width="26.23" height="47.35" fill="#8088e4"/>
<rect x="498.52" y="721.80" width="26.23" height="47.35" fill="#7050a6"/>
<rect x="543.11" y="711.30" width="41.96" height="57.85" fill="#df7a80"/>
<rect x="550.98" y="738.20" width="26.23" height="30.95" fill="#8088e4"/>
<rect x="550.98" y="738.20" width="26.23" height="30.95" fill="#7050a6"/>
<rect x="595.56" y="705.05" width="41.96" height="64.10" fill="#df7a80"/>
<rect x="603.43" y="741.35" width="26.23" height="27.80" fill="#8088e4"/>
<rect x="603.43" y="741.35" width="26.23" height="27.80" fill="#7050a6"/>
<line x1="92.00" y1="718.45" x2="95.30" y2="718.45" stroke="#000" stroke-width="1.6"/>
<line x1="92.00" y1="667.75" x2="98.60" y2="667.75" stroke="#000" stroke-width="1.6"/>
<line x1="92.00" y1="617.05" x2="95.30" y2="617.05" stroke="#000" stroke-width="1.6"/>
<line x1="92.00" y1="566.35" x2="98.60" y2="566.35" stroke="#000" stroke-width="1.6"/>
<line x1="92.00" y1="515.65" x2="95.30" y2="515.65" stroke="#000" stroke-width="1.6"/>
<rect x="92.0" y="464.95" width="577.00" height="304.20" fill="none" stroke="#000" stroke-width="2.0"/>
<line x1="152.36" y1="701.58" x2="189.00" y2="695.92" stroke="#2014fa" stroke-width="1.9"/>
<line x1="204.37" y1="691.83" x2="241.90" y2="677.37" stroke="#2014fa" stroke-width="1.9"/>
<line x1="256.12" y1="670.21" x2="295.06" y2="645.49" stroke="#2014fa" stroke-width="1.9"/>
<line x1="309.55" y1="639.14" x2="346.54" y2="629.26" stroke="#2014fa" stroke-width="1.9"/>
<line x1="361.97" y1="625.01" x2="399.03" y2="614.49" stroke="#2014fa" stroke-width="1.9"/>
<line x1="414.56" y1="613.91" x2="451.35" y2="621.49" stroke="#2014fa" stroke-width="1.9"/>
<line x1="465.61" y1="627.87" x2="505.21" y2="657.23" stroke="#2014fa" stroke-width="1.9"/>
<line x1="518.17" y1="666.62" x2="557.56" y2="694.48" stroke="#2014fa" stroke-width="1.9"/>
<line x1="570.45" y1="703.95" x2="610.19" y2="734.30" stroke="#2014fa" stroke-width="1.9"/>
<circle cx="144.45" cy="702.80" r="6.20" fill="#2014fa"/>
<circle cx="196.91" cy="694.70" r="6.20" fill="#2014fa"/>
<circle cx="249.36" cy="674.50" r="6.20" fill="#2014fa"/>
<circle cx="301.82" cy="641.20" r="6.20" fill="#2014fa"/>
<circle cx="354.27" cy="627.20" r="6.20" fill="#2014fa"/>
<circle cx="406.73" cy="612.30" r="6.20" fill="#2014fa"/>
<circle cx="459.18" cy="623.10" r="6.20" fill="#2014fa"/>
<circle cx="511.64" cy="662.00" r="6.20" fill="#2014fa"/>
<circle cx="564.09" cy="699.10" r="6.20" fill="#2014fa"/>
<circle cx="616.55" cy="739.15" r="6.20" fill="#2014fa"/>
<line x1="151.84" y1="724.32" x2="189.53" y2="708.58" stroke="#d42219" stroke-width="1.9"/>
<line x1="204.60" y1="703.31" x2="241.67" y2="692.79" stroke="#d42219" stroke-width="1.9"/>
<line x1="256.81" y1="687.69" x2="294.37" y2="673.01" stroke="#d42219" stroke-width="1.9"/>
<line x1="308.73" y1="666.07" x2="347.36" y2="643.53" stroke="#d42219" stroke-width="1.9"/>
<line x1="362.24" y1="638.78" x2="398.76" y2="635.47" stroke="#d42219" stroke-width="1.9"/>
<line x1="414.45" y1="632.65" x2="451.46" y2="622.60" stroke="#d42219" stroke-width="1.9"/>
<line x1="467.12" y1="621.51" x2="503.70" y2="626.19" stroke="#d42219" stroke-width="1.9"/>
<line x1="519.03" y1="630.25" x2="556.69" y2="645.75" stroke="#d42219" stroke-width="1.9"/>
<line x1="569.31" y1="654.87" x2="611.33" y2="703.73" stroke="#d42219" stroke-width="1.9"/>
<circle cx="144.45" cy="727.40" r="6.20" fill="#d42219"/>
<circle cx="196.91" cy="705.50" r="6.20" fill="#d42219"/>
<circle cx="249.36" cy="690.60" r="6.20" fill="#d42219"/>
<circle cx="301.82" cy="670.10" r="6.20" fill="#d42219"/>
<circle cx="354.27" cy="639.50" r="6.20" fill="#d42219"/>
<circle cx="406.73" cy="634.75" r="6.20" fill="#d42219"/>
<circle cx="459.18" cy="620.50" r="6.20" fill="#d42219"/>
<circle cx="511.64" cy="627.20" r="6.20" fill="#d42219"/>
<circle cx="564.09" cy="648.80" r="6.20" fill="#d42219"/>
<circle cx="616.55" cy="709.80" r="6.20" fill="#d42219"/>
<g transform="translate(43.55,777.59) scale(1.0000,1.0500)"><text x="0.00" y="0.00" font-size="28.5">0.0</text></g>
<g transform="translate(47.55,676.58) scale(1.0000,1.0500)"><text x="0.00" y="0.00" font-size="28.5">0.</text><path transform="translate(23.77,0.00) scale(0.01392,-0.01392)" d="M763 0 L583 0 L583 1147 Q518 1085 412 1023 Q306 961 222 930 L222 1104 Q373 1175 486 1276 Q599 1377 646 1472 L763 1472 Z"/></g>
<g transform="translate(43.80,574.79) scale(1.0000,1.0500)"><text x="0.00" y="0.00" font-size="28.5">0.2</text></g>
<g transform="translate(43.80,473.39) scale(1.0000,1.0500)"><text x="0.00" y="0.00" font-size="28.5">0.3</text></g>
<g transform="translate(136.45,799.77) scale(1.0000,1.0500)"><text x="0.00" y="0.00" font-size="28.5">2</text></g>
<g transform="translate(241.49,799.64) scale(1.0000,1.0500)"><text x="0.00" y="0.00" font-size="28.5">4</text></g>
<g transform="translate(346.27,799.64) scale(1.0000,1.0500)"><text x="0.00" y="0.00" font-size="28.5">6</text></g>
<g transform="translate(451.31,799.64) scale(1.0000,1.0500)"><text x="0.00" y="0.00" font-size="28.5">8</text></g>
<g transform="translate(547.34,800.03) scale(1.0000,1.0500)"><path transform="translate(0.00,0.00) scale(0.01392,-0.01392)" d="M763 0 L583 0 L583 1147 Q518 1085 412 1023 Q306 961 222 930 L222 1104 Q373 1175 486 1276 Q599 1377 646 1472 L763 1472 Z"/><text x="15.85" y="0.00" font-size="28.5">0</text></g>
<g transform="translate(652.38,800.03) scale(1.0000,1.0500)"><path transform="translate(0.00,0.00) scale(0.01392,-0.01392)" d="M763 0 L583 0 L583 1147 Q518 1085 412 1023 Q306 961 222 930 L222 1104 Q373 1175 486 1276 Q599 1377 646 1472 L763 1472 Z"/><text x="15.85" y="0.00" font-size="28.5">2</text></g>
<g transform="translate(-0.60,474.60) scale(1.0000,0.9750)"><text x="0.00" y="0.00" font-size="35.1">(c)</text></g>
<g transform="translate(31.85,698.45) rotate(-90) scale(1.0000,0.9850)"><text x="0.00" y="0.00" font-size="34.4">Population</text></g>
<g transform="translate(369.50,829.60) scale(1.0000,1.0350)"><text x="0.00" y="0.00" font-size="32.5" font-style="italic">v</text><text x="16.25" y="9.10" font-size="23.3">f</text></g>
<g transform="translate(103.25,500.30) scale(0.9979,1.0350)"><text x="0.00" y="0.00" font-size="28.6" font-style="italic">v</text><text x="14.25" y="7.15" font-size="18.59">i</text><text x="18.36" y="0.00" font-size="28.6">=</text><path transform="translate(35.00,0.00) scale(0.01396,-0.01396)" d="M763 0 L583 0 L583 1147 Q518 1085 412 1023 Q306 961 222 930 L222 1104 Q373 1175 486 1276 Q599 1377 646 1472 L763 1472 Z"/><path transform="translate(50.86,0.00) scale(0.01396,-0.01396)" d="M763 0 L583 0 L583 1147 Q518 1085 412 1023 Q306 961 222 930 L222 1104 Q373 1175 486 1276 Q599 1377 646 1472 L763 1472 Z"/><text x="66.71" y="0.00" font-size="28.6">, </text><text x="82.54" y="0.00" font-size="28.6" font-style="italic">E</text><text x="101.55" y="7.15" font-size="18.59">i</text><text x="105.66" y="0.00" font-size="28.6">=0.5</text><path transform="translate(161.93,0.00) scale(0.01396,-0.01396)" d="M763 0 L583 0 L583 1147 Q518 1085 412 1023 Q306 961 222 930 L222 1104 Q373 1175 486 1276 Q599 1377 646 1472 L763 1472 Z"/><text x="177.78" y="0.00" font-size="28.6"> eV</text></g>
<rect x="117.70" y="1124.00" width="28.94" height="41.75" fill="#df7a80"/>
<rect x="123.13" y="1125.80" width="18.08" height="39.95" fill="#8088e4"/>
<rect x="123.13" y="1125.80" width="18.08" height="39.95" fill="#7050a6"/>
<rect x="153.87" y="1096.70" width="28.94" height="69.05" fill="#df7a80"/>
<rect x="159.30" y="1086.70" width="18.08" height="79.05" fill="#8088e4"/>
<rect x="159.30" y="1096.70" width="18.08" height="69.05" fill="#7050a6"/>
<rect x="190.04" y="1070.40" width="28.94" height="95.35" fill="#df7a80"/>
<rect x="195.46" y="1036.00" width="18.08" height="129.75" fill="#8088e4"/>
<rect x="195.46" y="1070.40" width="18.08" height="95.35" fill="#7050a6"/>
<rect x="226.21" y="1032.80" width="28.94" height="132.95" fill="#df7a80"/>
<rect x="231.63" y="1017.90" width="18.08" height="147.85" fill="#8088e4"/>
<rect x="231.63" y="1032.80" width="18.08" height="132.95" fill="#7050a6"/>
<rect x="262.38" y="990.70" width="28.94" height="175.05" fill="#df7a80"/>
<rect x="267.80" y="977.90" width="18.08" height="187.85" fill="#8088e4"/>
<rect x="267.80" y="990.70" width="18.08" height="175.05" fill="#7050a6"/>
<rect x="298.55" y="1047.00" width="28.94" height="118.75" fill="#df7a80"/>
<rect x="303.97" y="1057.50" width="18.08" height="108.25" fill="#8088e4"/>
<rect x="303.97" y="1057.50" width="18.08" height="108.25" fill="#7050a6"/>
<rect x="334.71" y="1031.70" width="28.94" height="134.05" fill="#df7a80"/>
<rect x="340.14" y="1051.70" width="18.08" height="114.05" fill="#8088e4"/>
<rect x="340.14" y="1051.70" width="18.08" height="114.05" fill="#7050a6"/>
<rect x="370.88" y="1100.00" width="28.94" height="65.75" fill="#df7a80"/>
<rect x="376.31" y="1100.60" width="18.08" height="65.15" fill="#8088e4"/>
<rect x="376.31" y="1100.60" width="18.08" height="65.15" fill="#7050a6"/>
<rect x="407.05" y="1127.10" width="28.94" height="38.65" fill="#df7a80"/>
<rect x="412.48" y="1129.00" width="18.08" height="36.75" fill="#8088e4"/>
<rect x="412.48" y="1129.00" width="18.08" height="36.75" fill="#7050a6"/>
<rect x="443.22" y="1136.10" width="28.94" height="29.65" fill="#df7a80"/>
<rect x="448.65" y="1146.90" width="18.08" height="18.85" fill="#8088e4"/>
<rect x="448.65" y="1146.90" width="18.08" height="18.85" fill="#7050a6"/>
<rect x="479.39" y="1145.60" width="28.94" height="20.15" fill="#df7a80"/>
<rect x="484.81" y="1136.10" width="18.08" height="29.65" fill="#8088e4"/>
<rect x="484.81" y="1145.60" width="18.08" height="20.15" fill="#7050a6"/>
<rect x="515.56" y="1138.80" width="28.94" height="26.95" fill="#df7a80"/>
<rect x="520.98" y="1146.90" width="18.08" height="18.85" fill="#8088e4"/>
<rect x="520.98" y="1146.90" width="18.08" height="18.85" fill="#7050a6"/>
<rect x="551.73" y="1151.10" width="28.94" height="14.65" fill="#df7a80"/>
<rect x="557.15" y="1162.70" width="18.08" height="3.05" fill="#8088e4"/>
<rect x="557.15" y="1162.70" width="18.08" height="3.05" fill="#7050a6"/>
<rect x="587.90" y="1141.00" width="28.94" height="24.75" fill="#df7a80"/>
<rect x="593.32" y="1146.00" width="18.08" height="19.75" fill="#8088e4"/>
<rect x="593.32" y="1146.00" width="18.08" height="19.75" fill="#7050a6"/>
<rect x="624.06" y="1137.20" width="28.94" height="28.55" fill="#df7a80"/>
<rect x="629.49" y="1144.00" width="18.08" height="21.75" fill="#8088e4"/>
<rect x="629.49" y="1144.00" width="18.08" height="21.75" fill="#7050a6"/>
<line x1="96.00" y1="1114.88" x2="99.30" y2="1114.88" stroke="#000" stroke-width="1.6"/>
<line x1="96.00" y1="1064.00" x2="102.60" y2="1064.00" stroke="#000" stroke-width="1.6"/>
<line x1="96.00" y1="1013.12" x2="99.30" y2="1013.12" stroke="#000" stroke-width="1.6"/>
<line x1="96.00" y1="962.25" x2="102.60" y2="962.25" stroke="#000" stroke-width="1.6"/>
<line x1="96.00" y1="911.38" x2="99.30" y2="911.38" stroke="#000" stroke-width="1.6"/>
<rect x="96.0" y="860.5" width="578.70" height="305.25" fill="none" stroke="#000" stroke-width="2.0"/>
<line x1="139.17" y1="1115.04" x2="161.34" y2="1103.46" stroke="#2014fa" stroke-width="1.9"/>
<line x1="175.98" y1="1097.81" x2="196.86" y2="1092.39" stroke="#2014fa" stroke-width="1.9"/>
<line x1="211.97" y1="1087.80" x2="233.21" y2="1080.40" stroke="#2014fa" stroke-width="1.9"/>
<line x1="247.47" y1="1073.76" x2="270.05" y2="1060.34" stroke="#2014fa" stroke-width="1.9"/>
<line x1="284.73" y1="1056.80" x2="305.13" y2="1058.10" stroke="#2014fa" stroke-width="1.9"/>
<line x1="320.90" y1="1058.19" x2="341.29" y2="1057.11" stroke="#2014fa" stroke-width="1.9"/>
<line x1="357.03" y1="1055.79" x2="377.50" y2="1053.41" stroke="#2014fa" stroke-width="1.9"/>
<line x1="391.47" y1="1057.49" x2="415.40" y2="1077.01" stroke="#2014fa" stroke-width="1.9"/>
<line x1="429.38" y1="1082.80" x2="449.83" y2="1084.90" stroke="#2014fa" stroke-width="1.9"/>
<line x1="464.60" y1="1089.52" x2="486.94" y2="1101.88" stroke="#2014fa" stroke-width="1.9"/>
<line x1="500.58" y1="1109.85" x2="523.30" y2="1123.85" stroke="#2014fa" stroke-width="1.9"/>
<line x1="537.34" y1="1130.97" x2="558.88" y2="1139.73" stroke="#2014fa" stroke-width="1.9"/>
<line x1="573.85" y1="1144.63" x2="594.70" y2="1149.87" stroke="#2014fa" stroke-width="1.9"/>
<line x1="610.07" y1="1153.55" x2="630.83" y2="1158.25" stroke="#2014fa" stroke-width="1.9"/>
<circle cx="132.17" cy="1118.70" r="6.10" fill="#2014fa"/>
<circle cx="168.34" cy="1099.80" r="6.10" fill="#2014fa"/>
<circle cx="204.51" cy="1090.40" r="6.10" fill="#2014fa"/>
<circle cx="240.68" cy="1077.80" r="6.10" fill="#2014fa"/>
<circle cx="276.84" cy="1056.30" r="6.10" fill="#2014fa"/>
<circle cx="313.01" cy="1058.60" r="6.10" fill="#2014fa"/>
<circle cx="349.18" cy="1056.70" r="6.10" fill="#2014fa"/>
<circle cx="385.35" cy="1052.50" r="6.10" fill="#2014fa"/>
<circle cx="421.52" cy="1082.00" r="6.10" fill="#2014fa"/>
<circle cx="457.69" cy="1085.70" r="6.10" fill="#2014fa"/>
<circle cx="493.86" cy="1105.70" r="6.10" fill="#2014fa"/>
<circle cx="530.03" cy="1128.00" r="6.10" fill="#2014fa"/>
<circle cx="566.19" cy="1142.70" r="6.10" fill="#2014fa"/>
<circle cx="602.36" cy="1151.80" r="6.10" fill="#2014fa"/>
<circle cx="638.53" cy="1160.00" r="6.10" fill="#2014fa"/>
<line x1="139.21" y1="1124.32" x2="161.30" y2="1113.08" stroke="#d42219" stroke-width="1.9"/>
<line x1="175.94" y1="1107.36" x2="196.90" y2="1101.44" stroke="#d42219" stroke-width="1.9"/>
<line x1="211.97" y1="1096.70" x2="233.21" y2="1089.30" stroke="#d42219" stroke-width="1.9"/>
<line x1="247.63" y1="1082.95" x2="269.89" y2="1070.95" stroke="#d42219" stroke-width="1.9"/>
<line x1="284.66" y1="1068.32" x2="305.19" y2="1071.28" stroke="#d42219" stroke-width="1.9"/>
<line x1="320.82" y1="1071.17" x2="341.38" y2="1067.93" stroke="#d42219" stroke-width="1.9"/>
<line x1="356.88" y1="1064.91" x2="377.65" y2="1060.09" stroke="#d42219" stroke-width="1.9"/>
<line x1="392.93" y1="1060.52" x2="413.94" y2="1066.68" stroke="#d42219" stroke-width="1.9"/>
<line x1="429.17" y1="1070.85" x2="450.03" y2="1076.15" stroke="#d42219" stroke-width="1.9"/>
<line x1="464.93" y1="1081.25" x2="486.61" y2="1090.65" stroke="#d42219" stroke-width="1.9"/>
<line x1="501.44" y1="1096.02" x2="522.44" y2="1102.18" stroke="#d42219" stroke-width="1.9"/>
<line x1="536.64" y1="1108.72" x2="559.58" y2="1123.68" stroke="#d42219" stroke-width="1.9"/>
<line x1="573.27" y1="1131.52" x2="595.29" y2="1142.48" stroke="#d42219" stroke-width="1.9"/>
<line x1="609.80" y1="1148.65" x2="631.09" y2="1156.25" stroke="#d42219" stroke-width="1.9"/>
<circle cx="132.17" cy="1127.90" r="6.10" fill="#d42219"/>
<circle cx="168.34" cy="1109.50" r="6.10" fill="#d42219"/>
<circle cx="204.51" cy="1099.30" r="6.10" fill="#d42219"/>
<circle cx="240.68" cy="1086.70" r="6.10" fill="#d42219"/>
<circle cx="276.84" cy="1067.20" r="6.10" fill="#d42219"/>
<circle cx="313.01" cy="1072.40" r="6.10" fill="#d42219"/>
<circle cx="349.18" cy="1066.70" r="6.10" fill="#d42219"/>
<circle cx="385.35" cy="1058.30" r="6.10" fill="#d42219"/>
<circle cx="421.52" cy="1068.90" r="6.10" fill="#d42219"/>
<circle cx="457.69" cy="1078.10" r="6.10" fill="#d42219"/>
<circle cx="493.86" cy="1093.80" r="6.10" fill="#d42219"/>
<circle cx="530.03" cy="1104.40" r="6.10" fill="#d42219"/>
<circle cx="566.19" cy="1128.00" r="6.10" fill="#d42219"/>
<circle cx="602.36" cy="1146.00" r="6.10" fill="#d42219"/>
<circle cx="638.53" cy="1158.90" r="6.10" fill="#d42219"/>
<g transform="translate(47.45,1174.09) scale(1.0000,1.0500)"><text x="0.00" y="0.00" font-size="28.5">0.0</text></g>
<g transform="translate(51.45,1072.73) scale(1.0000,1.0500)"><text x="0.00" y="0.00" font-size="28.5">0.</text><path transform="translate(23.77,0.00) scale(0.01392,-0.01392)" d="M763 0 L583 0 L583 1147 Q518 1085 412 1023 Q306 961 222 930 L222 1104 Q373 1175 486 1276 Q599 1377 646 1472 L763 1472 Z"/></g>
<g transform="translate(47.70,970.59) scale(1.0000,1.0500)"><text x="0.00" y="0.00" font-size="28.5">0.2</text></g>
<g transform="translate(47.70,868.84) scale(1.0000,1.0500)"><text x="0.00" y="0.00" font-size="28.5">0.3</text></g>
<g transform="translate(124.17,1196.67) scale(1.0000,1.0500)"><text x="0.00" y="0.00" font-size="28.5">2</text></g>
<g transform="translate(196.63,1196.54) scale(1.0000,1.0500)"><text x="0.00" y="0.00" font-size="28.5">4</text></g>
<g transform="translate(268.84,1196.54) scale(1.0000,1.0500)"><text x="0.00" y="0.00" font-size="28.5">6</text></g>
<g transform="translate(341.31,1196.54) scale(1.0000,1.0500)"><text x="0.00" y="0.00" font-size="28.5">8</text></g>
<g transform="translate(404.77,1196.93) scale(1.0000,1.0500)"><path transform="translate(0.00,0.00) scale(0.01392,-0.01392)" d="M763 0 L583 0 L583 1147 Q518 1085 412 1023 Q306 961 222 930 L222 1104 Q373 1175 486 1276 Q599 1377 646 1472 L763 1472 Z"/><text x="15.85" y="0.00" font-size="28.5">0</text></g>
<g transform="translate(477.23,1196.93) scale(1.0000,1.0500)"><path transform="translate(0.00,0.00) scale(0.01392,-0.01392)" d="M763 0 L583 0 L583 1147 Q518 1085 412 1023 Q306 961 222 930 L222 1104 Q373 1175 486 1276 Q599 1377 646 1472 L763 1472 Z"/><text x="15.85" y="0.00" font-size="28.5">2</text></g>
<g transform="translate(549.32,1196.93) scale(1.0000,1.0500)"><path transform="translate(0.00,0.00) scale(0.01392,-0.01392)" d="M763 0 L583 0 L583 1147 Q518 1085 412 1023 Q306 961 222 930 L222 1104 Q373 1175 486 1276 Q599 1377 646 1472 L763 1472 Z"/><text x="15.85" y="0.00" font-size="28.5">4</text></g>
<g transform="translate(621.91,1196.93) scale(1.0000,1.0500)"><path transform="translate(0.00,0.00) scale(0.01392,-0.01392)" d="M763 0 L583 0 L583 1147 Q518 1085 412 1023 Q306 961 222 930 L222 1104 Q373 1175 486 1276 Q599 1377 646 1472 L763 1472 Z"/><text x="15.85" y="0.00" font-size="28.5">6</text></g>
<g transform="translate(-0.15,872.60) scale(1.0000,0.9750)"><text x="0.00" y="0.00" font-size="35.3">(d)</text></g>
<g transform="translate(35.55,1094.40) rotate(-90) scale(1.0000,0.9850)"><text x="0.00" y="0.00" font-size="34.5">Population</text></g>
<g transform="translate(374.60,1224.10) scale(1.0000,1.0350)"><text x="0.00" y="0.00" font-size="32.5" font-style="italic">v</text><text x="16.25" y="9.10" font-size="23.3">f</text></g>
<g transform="translate(107.96,897.80) scale(0.9961,1.0350)"><text x="0.00" y="0.00" font-size="28.6" font-style="italic">v</text><text x="14.25" y="7.15" font-size="18.59">i</text><text x="18.36" y="0.00" font-size="28.6">=</text><path transform="translate(35.00,0.00) scale(0.01396,-0.01396)" d="M763 0 L583 0 L583 1147 Q518 1085 412 1023 Q306 961 222 930 L222 1104 Q373 1175 486 1276 Q599 1377 646 1472 L763 1472 Z"/><text x="50.86" y="0.00" font-size="28.6">6, </text><text x="82.54" y="0.00" font-size="28.6" font-style="italic">E</text><text x="101.55" y="7.15" font-size="18.59">i</text><text x="105.66" y="0.00" font-size="28.6">=0.52 eV</text></g>
</svg></body></html>
